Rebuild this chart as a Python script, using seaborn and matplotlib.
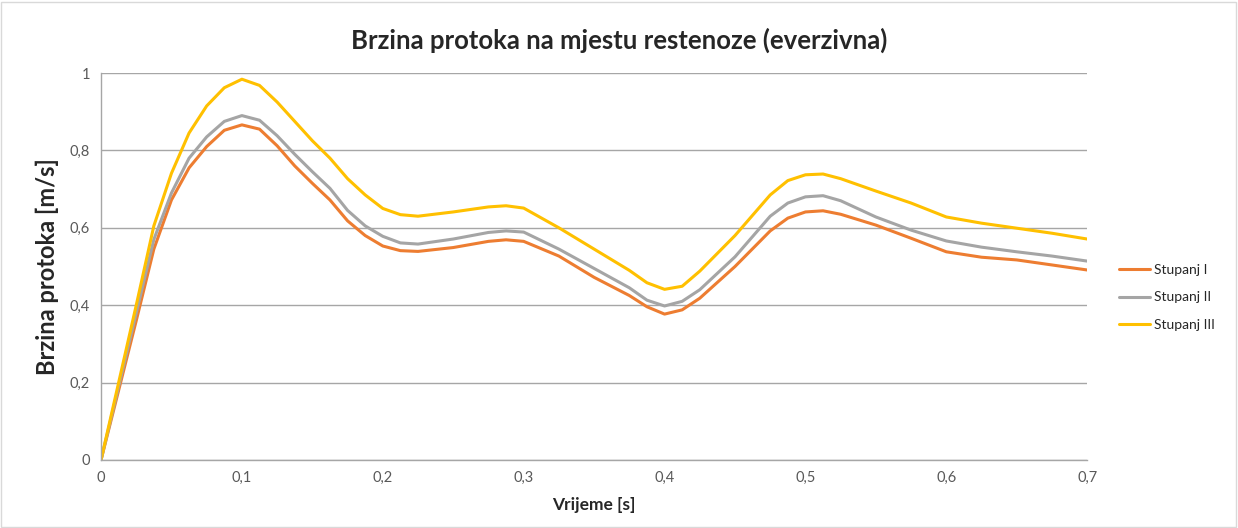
import numpy as np
import pandas as pd
import matplotlib
matplotlib.use("Agg")
import matplotlib.pyplot as plt
import seaborn as sns
from matplotlib.patches import Rectangle

# time [s]
vrijeme = [0.0, 0.0125, 0.025, 0.0375, 0.05, 0.0625, 0.075, 0.0875, 0.1, 0.1125,
           0.125, 0.1375, 0.15, 0.1625, 0.175, 0.1875, 0.2, 0.2125, 0.225, 0.25,
           0.275, 0.2875, 0.3, 0.325, 0.35, 0.375, 0.3875, 0.4, 0.4125, 0.425,
           0.45, 0.475, 0.4875, 0.5, 0.5125, 0.525, 0.55, 0.575, 0.6, 0.625,
           0.65, 0.675, 0.7]

stupanj_1 = [0.0, 0.18, 0.36, 0.545, 0.672, 0.755, 0.81, 0.852, 0.866, 0.855,
             0.812, 0.76, 0.715, 0.672, 0.618, 0.58, 0.553, 0.541, 0.539, 0.549,
             0.565, 0.569, 0.565, 0.527, 0.472, 0.425, 0.396, 0.377, 0.388, 0.418,
             0.5, 0.592, 0.625, 0.641, 0.644, 0.635, 0.607, 0.573, 0.538, 0.524,
             0.517, 0.504, 0.491]
stupanj_2 = [0.0, 0.19, 0.38, 0.57, 0.69, 0.78, 0.835, 0.875, 0.89, 0.878,
             0.838, 0.79, 0.745, 0.702, 0.645, 0.605, 0.578, 0.561, 0.558, 0.571,
             0.588, 0.592, 0.589, 0.545, 0.495, 0.445, 0.413, 0.398, 0.41, 0.44,
             0.525, 0.63, 0.664, 0.68, 0.683, 0.67, 0.628, 0.594, 0.566, 0.55,
             0.538, 0.527, 0.514]
stupanj_3 = [0.0, 0.2, 0.4, 0.605, 0.741, 0.845, 0.915, 0.962, 0.984, 0.968,
             0.925, 0.875, 0.825, 0.78, 0.727, 0.685, 0.65, 0.634, 0.63, 0.641,
             0.654, 0.657, 0.651, 0.6, 0.545, 0.49, 0.458, 0.441, 0.449, 0.488,
             0.58, 0.685, 0.722, 0.737, 0.739, 0.727, 0.695, 0.664, 0.628, 0.612,
             0.599, 0.586, 0.571]

serije = ["Stupanj I", "Stupanj II", "Stupanj III"]
boje = ["#ED7D31", "#A5A5A5", "#FFC000"]
x_oznake = ["0", "0,1", "0,2", "0,3", "0,4", "0,5", "0,6", "0,7"]
y_oznake = ["0", "0,2", "0,4", "0,6", "0,8", "1"]

df = pd.DataFrame({
    "Vrijeme": vrijeme * 3,
    "Brzina": stupanj_1 + stupanj_2 + stupanj_3,
    "Serija": [s for s in serije for _ in vrijeme],
})

sns.set_style("white")
plt.rcParams["font.family"] = ["Lato", "DejaVu Sans"]

fig = plt.figure(figsize=(12.38, 5.28), dpi=100)
ax = fig.add_axes([0.0816, 0.1288, 0.7966, 0.7329])

sns.lineplot(data=df, x="Vrijeme", y="Brzina", hue="Serija",
             palette=boje, linewidth=2.2, ax=ax, legend=True)
for line in ax.get_lines():
    line.set_solid_joinstyle("round")

ax.set_xlim(0, 0.7)
ax.set_ylim(0, 1)
ax.set_xticks(np.arange(0, 0.71, 0.1))
ax.set_yticks(np.arange(0, 1.01, 0.2))
ax.set_xticklabels(x_oznake)
ax.set_yticklabels(y_oznake)
ax.tick_params(axis="both", labelsize=10.5, labelcolor="#595959", length=0, pad=8)

ax.yaxis.grid(True, color="#A6A6A6", linewidth=1)
ax.xaxis.grid(False)
for side in ["top", "right"]:
    ax.spines[side].set_visible(False)
for side in ["left", "bottom"]:
    ax.spines[side].set_color("#A6A6A6")
    ax.spines[side].set_linewidth(1)

ax.set_xlabel("Vrijeme [s]", fontsize=12.5, fontweight="bold")
ax.xaxis.set_label_coords(0.5, -0.116)
ax.xaxis.label.set_va("center")
ax.set_ylabel("Brzina protoka [m/s]", fontsize=17, fontweight="bold")
ax.yaxis.set_label_coords(-0.054, 0.5)
ax.yaxis.label.set_va("center")
fig.suptitle("Brzina protoka na mjestu restenoze (everzivna)",
             fontsize=18.5, fontweight="bold", y=0.924, va="center")

leg = ax.legend(loc="center left", bbox_to_anchor=(1.02, 0.42),
                frameon=False, fontsize=10, handlelength=2.2,
                labelspacing=1.1, handletextpad=0.3)
for line in leg.get_lines():
    line.set_linewidth(2.2)

fig.patches.append(Rectangle((0.001, 0.002), 0.997, 0.995, transform=fig.transFigure,
                             fill=False, edgecolor="#D9D9D9", linewidth=1))

fig.savefig("out.png", dpi=100)
